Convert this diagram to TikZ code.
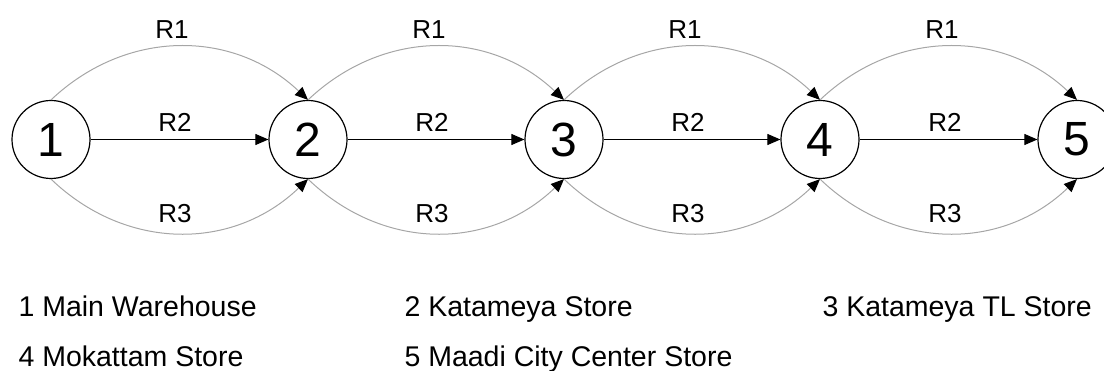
\documentclass[tikz,border=0pt]{standalone}
\usepackage{fontspec}
\setmainfont{Liberation Sans}
\usetikzlibrary{arrows.meta}
\begin{document}
\begin{tikzpicture}[x=1pt,y=-1pt,
  stop/.style={circle,draw,line width=1.2pt,minimum size=78pt,inner sep=0pt,
    font=\fontsize{48}{50}\selectfont},
  route/.style={line width=1pt,-{Triangle[length=13pt,width=11pt,black]}},
  arc/.style={route,draw=gray!70},
  rlabel/.style={anchor=base,font=\fontsize{26}{28}\selectfont},
  legend/.style={anchor=base west,font=\fontsize{28.5}{30}\selectfont}]
\useasboundingbox (0,0) rectangle (1104,371);

% stops along the line
\node[stop] (n1) at (51,139.5) {1};
\node[stop] (n2) at (308,139.5) {2};
\node[stop] (n3) at (564,139.5) {3};
\node[stop] (n4) at (820,139.5) {4};
\node[stop] (n5) at (1077,139.5) {5};

% three routes between each pair of neighbouring stops
\foreach \a/\b/\m in {n1/n2/172,n2/n3/429,n3/n4/685,n4/n5/942}{
  \draw[arc] (\a.north) .. controls ++(75,-71) and ([shift={(-75,-71)}]\b.north) .. (\b.north);
  \draw[route] (\a.east) -- (\b.west);
  \draw[arc] (\a.south) .. controls ++(75,72) and ([shift={(-75,72)}]\b.south) .. (\b.south);
  \node[rlabel] (r1\a) at (\m,39) {R1};
  \node[rlabel] (r2\a) at (\m+3,131.5) {R2};
  \node[rlabel] (r3\a) at (\m+3,223) {R3};
}

% key to the stop numbers
\node[legend] (k1) at (15,317) {1 Main Warehouse};
\node[legend] (k2) at (401,317) {2 Katameya Store};
\node[legend] (k3) at (819,317) {3 Katameya TL Store};
\node[legend] (k4) at (15,367) {4 Mokattam Store};
\node[legend] (k5) at (401,367) {5 Maadi City Center Store};
\end{tikzpicture}
\end{document}
